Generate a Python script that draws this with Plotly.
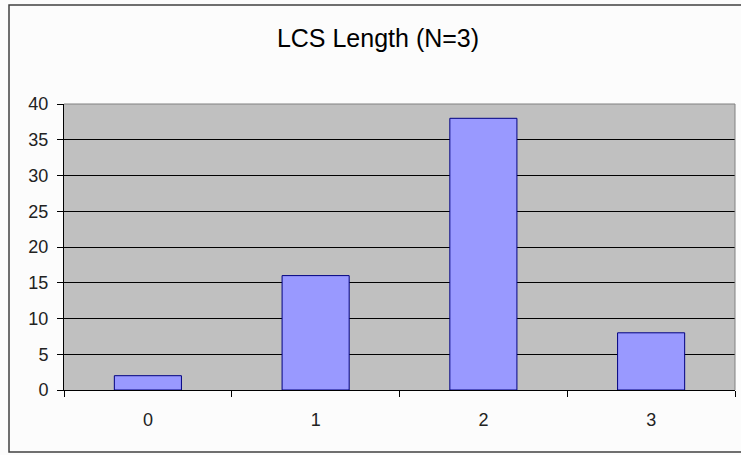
import plotly.graph_objects as go

categories = ["0", "1", "2", "3"]
values = [2, 16, 38, 8]
title_text = "LCS Length (N=3)"

W, H = 741, 455
L, R, T, B = 64, 6, 104, 65
pw = W - L - R
ph = H - T - B

fig = go.Figure(go.Bar(
    x=categories, y=values, width=0.4,
    marker=dict(color="#9999FF", line=dict(color="#000080", width=1)),
))

font = "Liberation Sans, Arial, sans-serif"

def px_x(p):
    return (p - L) / pw

def px_y(p):
    return (H - B - p) / ph

fig.update_layout(
    width=W, height=H,
    margin=dict(l=L, r=R, t=T, b=B),
    paper_bgcolor="#FCFCFC",
    plot_bgcolor="#C0C0C0",
    showlegend=False,
    font=dict(family=font, color="#000000", size=18),
    title=dict(text=title_text, x=378 / W, xref="container", xanchor="center",
               y=1 - 38 / H, yref="container", yanchor="middle",
               font=dict(size=25, family=font, color="#000000")),
    bargap=0.6,
    xaxis=dict(type="category", tickson="boundaries", ticks="outside", ticklen=6,
               tickcolor="#000000", showline=True, linecolor="#000000", linewidth=1,
               showgrid=False, ticklabelstandoff=13, tickfont=dict(size=18, color="#222222"),
               range=[-0.5, 3.5]),
    yaxis=dict(range=[0, 40], dtick=5, tick0=0, ticks="outside", ticklen=6,
               tickcolor="#000000", showline=True, linecolor="#000000", linewidth=1,
               showgrid=True, gridcolor="#000000", gridwidth=1, zeroline=False,
               ticklabelstandoff=5, tickfont=dict(size=18, color="#222222")),
    shapes=[
        dict(type="line", xref="paper", yref="paper", x0=0, x1=1, y0=1, y1=1,
             line=dict(color="#808080", width=1), layer="above"),
        dict(type="line", xref="paper", yref="paper", x0=1, x1=1, y0=0, y1=1,
             line=dict(color="#808080", width=1), layer="above"),
        dict(type="rect", xref="paper", yref="paper",
             x0=px_x(9), x1=px_x(748), y0=px_y(452), y1=px_y(5),
             line=dict(color="#404040", width=1.5), fillcolor="rgba(0,0,0,0)", layer="below"),
    ],
)

fig.write_html("out.html", config={"displayModeBar": False},
               post_script="document.body.style.margin='0';document.body.style.overflow='hidden';")
